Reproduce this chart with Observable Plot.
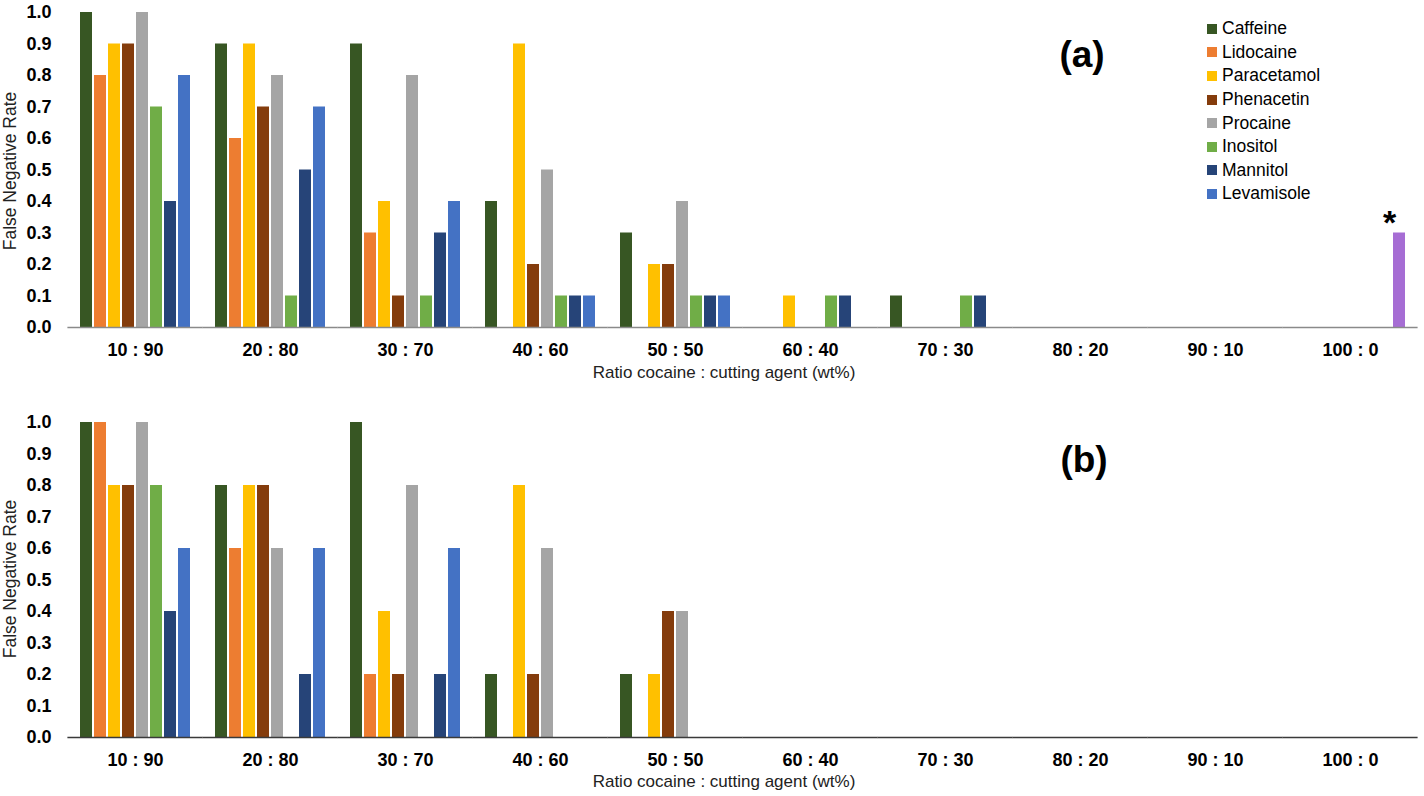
<!DOCTYPE html>
<html>
<head>
<meta charset="utf-8">
<script src="https://cdn.jsdelivr.net/npm/d3@7"></script>
<script src="https://cdn.jsdelivr.net/npm/@observablehq/plot@0.6"></script>
<style>
  body { margin: 0; background: #fff; font-family: "Liberation Sans", Arial, sans-serif; }
  #wrap { position: relative; width: 1424px; height: 796px; overflow: hidden; }
  #wrap svg { display: block; }
  .ytitle { position: absolute; font-size: 17.5px; white-space: nowrap; color: #222;
            transform: translate(-50%, -50%) rotate(-90deg); }
  .xtitle { position: absolute; font-size: 17px; white-space: nowrap; color: #222;
            transform: translate(-50%, -50%); }
  .panel { position: absolute; font-size: 37px; font-weight: bold; color: #000;
           transform: translate(-50%, -50%); }
  .legend { position: absolute; left: 1207px; top: 17px; font-size: 17.5px; color: #000; }
  .legend div { height: 23.6px; display: flex; align-items: center; white-space: nowrap; }
  .legend span.sw { display: inline-block; width: 10px; height: 10px; margin-right: 5px; }
</style>
</head>
<body>
<div id="wrap"></div>
<script>
// ---- categories ----
const ratios = ["10 : 90", "20 : 80", "30 : 70", "40 : 60", "50 : 50",
                "60 : 40", "70 : 30", "80 : 20", "90 : 10", "100 : 0"];
const agents = ["Caffeine", "Lidocaine", "Paracetamol", "Phenacetin",
                "Procaine", "Inositol", "Mannitol", "Levamisole"];
const agentColors = ["#375623", "#ED7D31", "#FFC000", "#843C0C",
                     "#A5A5A5", "#70AD47", "#264478", "#4472C4"];
const cocaineLabel = "Cocaine";
const cocaineColor = "#A66DD4";
const yTicks = [0, 0.1, 0.2, 0.3, 0.4, 0.5, 0.6, 0.7, 0.8, 0.9, 1.0];

// ---- panel (a) values, one per ratio ----
const caffeineA    = [1.0, 0.9, 0.9, 0.4, 0.3, 0,   0.1, 0, 0, 0];
const lidocaineA   = [0.8, 0.6, 0.3, 0,   0,   0,   0,   0, 0, 0];
const paracetamolA = [0.9, 0.9, 0.4, 0.9, 0.2, 0.1, 0,   0, 0, 0];
const phenacetinA  = [0.9, 0.7, 0.1, 0.2, 0.2, 0,   0,   0, 0, 0];
const procaineA    = [1.0, 0.8, 0.8, 0.5, 0.4, 0,   0,   0, 0, 0];
const inositolA    = [0.7, 0.1, 0.1, 0.1, 0.1, 0.1, 0.1, 0, 0, 0];
const mannitolA    = [0.4, 0.5, 0.3, 0.1, 0.1, 0.1, 0.1, 0, 0, 0];
const levamisoleA  = [0.8, 0.7, 0.4, 0.1, 0.1, 0,   0,   0, 0, 0];
const cocaineOnlyA = [0,   0,   0,   0,   0,   0,   0,   0, 0, 0.3];

// ---- panel (b) values ----
const caffeineB    = [1.0, 0.8, 1.0, 0.2, 0.2, 0, 0, 0, 0, 0];
const lidocaineB   = [1.0, 0.6, 0.2, 0,   0,   0, 0, 0, 0, 0];
const paracetamolB = [0.8, 0.8, 0.4, 0.8, 0.2, 0, 0, 0, 0, 0];
const phenacetinB  = [0.8, 0.8, 0.2, 0.2, 0.4, 0, 0, 0, 0, 0];
const procaineB    = [1.0, 0.6, 0.8, 0.6, 0.4, 0, 0, 0, 0, 0];
const inositolB    = [0.8, 0,   0,   0,   0,   0, 0, 0, 0, 0];
const mannitolB    = [0.4, 0.2, 0.2, 0,   0,   0, 0, 0, 0, 0];
const levamisoleB  = [0.6, 0.6, 0.6, 0,   0,   0, 0, 0, 0, 0];

const seriesA = [caffeineA, lidocaineA, paracetamolA, phenacetinA, procaineA, inositolA, mannitolA, levamisoleA];
const seriesB = [caffeineB, lidocaineB, paracetamolB, phenacetinB, procaineB, inositolB, mannitolB, levamisoleB];

function toRows(seriesList, extra) {
  const rows = [];
  seriesList.forEach((vals, i) => vals.forEach((v, j) => {
    if (v > 0) rows.push({ratio: ratios[j], slot: agents[i], series: agents[i], value: v});
  }));
  if (extra) extra.forEach((v, j) => {
    if (v > 0) rows.push({ratio: ratios[j], slot: agents[agents.length - 1], series: cocaineLabel, value: v});
  });
  return rows;
}

const rowsA = toRows(seriesA, cocaineOnlyA);
const rowsB = toRows(seriesB, null);
const starRows = rowsA.filter(d => d.series === cocaineLabel);

function panel(rows, {height, marginTop, marginBottom, baseline, extraMarks = []}) {
  return Plot.plot({
    width: 1424,
    height,
    marginLeft: 66,
    marginRight: 4,
    marginTop,
    marginBottom,
    style: {fontFamily: "'Liberation Sans', Arial, sans-serif", color: "#000", background: "transparent"},
    fx: {domain: ratios, paddingInner: 0.17, paddingOuter: 0.085, label: null, axis: null},
    x: {domain: agents, paddingInner: 0.15, paddingOuter: 0, axis: null},
    y: {domain: [0, 1], axis: null},
    color: {domain: [...agents, cocaineLabel], range: [...agentColors, cocaineColor]},
    marks: [
      Plot.barY(rows, {fx: "ratio", x: "slot", y: "value", fill: "series"}),
      // one baseline segment per ratio group (also keeps every facet present), widened to join its neighbours
      Plot.ruleY(ratios, {fx: d => d, y: () => 0, stroke: baseline, strokeWidth: 1.6,
                          insetLeft: -11.6, insetRight: -11.6}),
      Plot.axisY({ticks: yTicks, tickFormat: d3.format(".1f"), tickSize: 0, tickPadding: 28,
                  fontSize: 18, fontWeight: "bold", label: null}),
      Plot.axisFx({anchor: "bottom", tickSize: 0, tickPadding: 16,
                   fontSize: 18, fontWeight: "bold", label: null}),
      ...extraMarks
    ]
  });
}

const wrap = document.getElementById("wrap");

const chartA = panel(rowsA, {
  height: 385, marginTop: 12, marginBottom: 58, baseline: "#8a8a8a",
  extraMarks: [
    Plot.text(starRows, {fx: "ratio", x: "slot", y: "value", text: () => "*",
                         fontSize: 34, fontWeight: "bold", dx: -10, dy: -10})
  ]
});
const chartB = panel(rowsB, {height: 411, marginTop: 37, marginBottom: 59, baseline: "#3a3a3a"});
wrap.appendChild(chartA);
wrap.appendChild(chartB);

// ---- overlays: titles, panel letters, legend ----
function addDiv(cls, text, left, top) {
  const d = document.createElement("div");
  d.className = cls;
  d.textContent = text;
  d.style.left = left + "px";
  d.style.top = top + "px";
  wrap.appendChild(d);
}
addDiv("ytitle", "False Negative Rate", 10, 171);
addDiv("ytitle", "False Negative Rate", 10, 579);
addDiv("xtitle", "Ratio cocaine : cutting agent (wt%)", 724, 373);
addDiv("xtitle", "Ratio cocaine : cutting agent (wt%)", 724, 782);
addDiv("panel", "(a)", 1082, 55);
addDiv("panel", "(b)", 1084, 460);

const legend = document.createElement("div");
legend.className = "legend";
agents.forEach((a, i) => {
  const row = document.createElement("div");
  const sw = document.createElement("span");
  sw.className = "sw";
  sw.style.background = agentColors[i];
  row.appendChild(sw);
  row.appendChild(document.createTextNode(a));
  legend.appendChild(row);
});
wrap.appendChild(legend);
</script>
</body>
</html>
